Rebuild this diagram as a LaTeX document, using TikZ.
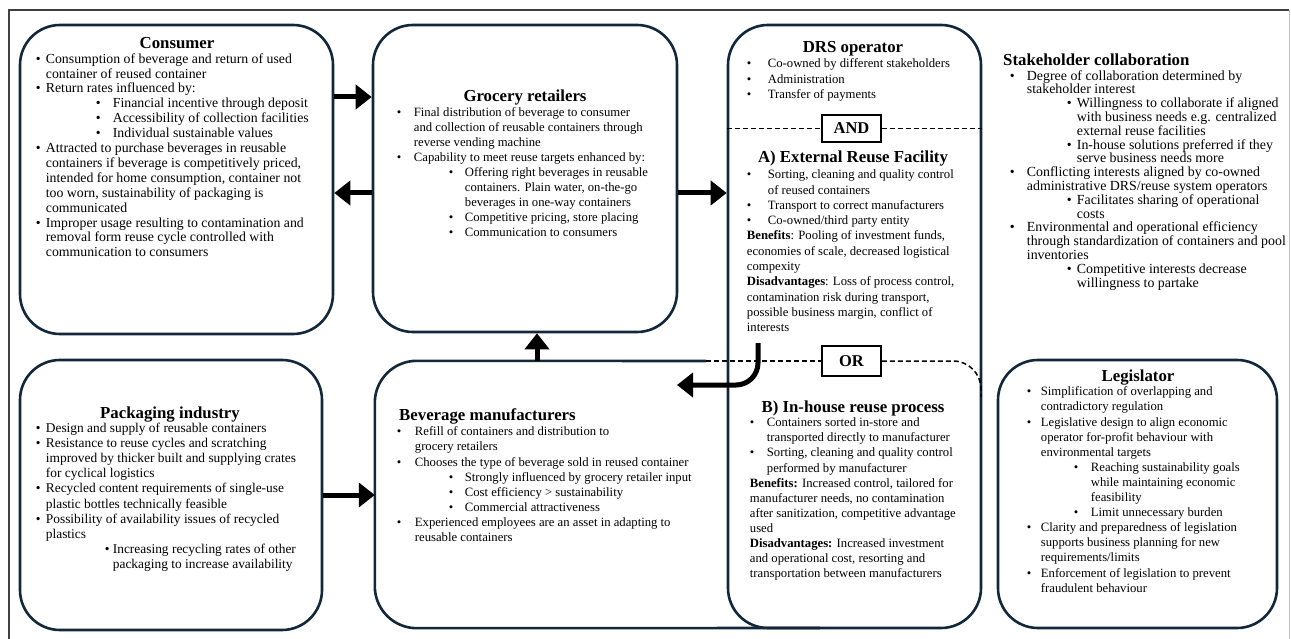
\documentclass[tikz,border=0pt]{standalone}
\usepackage{fontspec}
\setmainfont{Liberation Serif}
\usetikzlibrary{arrows.meta}
\definecolor{navy}{HTML}{12283A}
\newlength\indA \newlength\indB \newlength\indC
\newcommand\bulA{\makebox[\indA][l]{\textbullet}}
\newcommand\conA{\hspace*{\indA}}
\newcommand\bulB{\hspace*{\indB}\makebox[\indC][l]{\textbullet}}
\newcommand\conB{\hspace*{\dimexpr\indB+\indC\relax}}
\newcommand\setind[3]{\setlength\indA{#1}\setlength\indB{#2}\setlength\indC{#3}}
\def\bodysize{12.7}
\tikzset{
  box/.style={draw=navy, line width=2.6pt, rounded corners=40pt, inner sep=0pt},
  hidden/.style={inner sep=0pt},
  body/.style={anchor=north west, inner sep=0pt, align=left, font=\fontsize{\bodysize}{#1}\selectfont},
  ttl/.style={anchor=base, inner sep=0pt, font=\bfseries\fontsize{16.8}{20}\selectfont},
  ttlw/.style={anchor=base west, inner sep=0pt, font=\bfseries\fontsize{16.8}{20}\selectfont},
  tag/.style={draw=black, line width=1.6pt, fill=white, inner sep=0pt, font=\bfseries\fontsize{16.5}{20}\selectfont},
  dsh/.style={draw=black, line width=1.5pt, dash pattern=on 5pt off 3pt},
  arr/.style={draw=black, line width=5pt, -{Triangle[length=16pt,width=24pt]}},
}
\begin{document}
\begin{tikzpicture}[x=1pt, y=-1pt]
\useasboundingbox (0,0) rectangle (1291,639);
% outer frame
\draw[black!75, line width=1.2pt] (9,639) -- (9,10) -- (1289,10);
\draw[black!25, line width=0.8pt] (1289,10) -- (1289,639);

% boxes
\node[box, minimum width=313pt, minimum height=309pt] (consumer) at (176.5,179.5) {};
\node[box, minimum width=304pt, minimum height=307pt] (grocery) at (525,178.5) {};
\node[box, minimum width=302pt, minimum height=270pt] (packaging) at (171,495) {};
\node[hidden, minimum width=606pt, minimum height=267pt] (beverage) at (678,494.5) {};
\node[box, minimum width=279pt, minimum height=268pt] (legislator) at (1137.5,494) {};
\draw[draw=navy, line width=2.6pt, rounded corners=42pt] (706,361) -- (beverage.north west) -- (beverage.south west) -- (820,628);
\node[box, minimum width=253pt, minimum height=603pt] (drs) at (854.5,326.5) {};

% AND / OR separators
\node[tag, minimum width=59pt, minimum height=27pt] (and) at (851.5,128.5) {AND};
\node[tag, minimum width=59pt, minimum height=30pt] (or) at (851.5,361) {OR};
\coordinate (orl) at (706,361);
\coordinate (orc) at (981,397);
\draw[dsh] (drs.west |- and) -- (and.west);
\draw[dsh] (and.east) -- (drs.east |- and);
\draw[dsh] (orl) -- (or.west);
\draw[dsh, rounded corners=28pt] (or.east) -- (orc |- or) -- (orc);

% arrows
\coordinate (y1) at (0,97);
\coordinate (y2) at (0,193);
\coordinate (y3) at (0,495);
\coordinate (ux) at (537,0);
\coordinate (jt) at (758,343);
\coordinate (jh) at (677,385);
\draw[arr] (consumer.east |- y1) -- (grocery.west |- y1);
\draw[arr] (grocery.west |- y2) -- (consumer.east |- y2);
\draw[arr] (grocery.east |- y2) -- (drs.west |- y2);
\draw[arr] (packaging.east |- y3) -- (beverage.west |- y3);
\draw[arr] (beverage.north -| ux) -- (grocery.south -| ux);
\draw[arr, rounded corners=22pt] (jt) -- (jt |- jh) -- (jh);

% Consumer
\node[ttl] (consumer-h) at (177,49) {Consumer};
\setind{10pt}{60pt}{17pt}
\def\bodysize{13.8}
\node[body=14.9pt] (consumer-t) at (35.7,53.2) {%
\bulA Consumption of beverage and return of used\\
\conA container of reused container\\
\bulA Return rates influenced by:\\
\bulB Financial incentive through deposit\\
\bulB Accessibility of collection facilities\\
\bulB Individual sustainable values\\
\bulA Attracted to purchase beverages in reusable\\
\conA containers if beverage is competitively priced,\\
\conA intended for home consumption, container not\\
\conA too worn, sustainability of packaging is\\
\conA communicated\\
\bulA Improper usage resulting to contamination and\\
\conA removal form reuse cycle controlled with\\
\conA communication to consumers};

% Grocery retailers
\def\bodysize{12.7}
\node[ttl] (grocery-h) at (525,102) {Grocery retailers};
\setind{17pt}{52pt}{16pt}
\node[body=15pt] (grocery-t) at (396.7,107.7) {%
\bulA Final distribution of beverage to consumer\\
\conA and collection of reusable containers through\\
\conA reverse vending machine\\
\bulA Capability to meet reuse targets enhanced by:\\
\bulB Offering right beverages in reusable\\
\conB containers. Plain water, on-the-go\\
\conB beverages in one-way containers\\
\bulB Competitive pricing, store placing\\
\bulB Communication to consumers};

% DRS operator
\node[ttl] (drs-h) at (853,53) {DRS operator};
\setind{21pt}{0pt}{0pt}
\node[body=15.3pt] (drs-t) at (746.7,58.7) {%
\bulA Co-owned by different stakeholders\\
\bulA Administration\\
\bulA Transfer of payments};

\node[ttl] (ext-h) at (853,163) {A) External Reuse Facility};
\node[body=15.3pt] (ext-t) at (746.7,169.7) {%
\bulA Sorting, cleaning and quality control\\
\conA of reused containers\\
\bulA Transport to correct manufacturers\\
\bulA Co-owned/third party entity\\
\textbf{Benefits}: Pooling of investment funds,\\
economies of scale, decreased logistical\\
compexity\\
\textbf{Disadvantages}: Loss of process control,\\
contamination risk during transport,\\
possible business margin, conflict of\\
interests};

% Stakeholder collaboration
\node[ttlw] (stake-h) at (1003,66) {Stakeholder collaboration};
\setind{17pt}{57pt}{10pt}
\def\bodysize{13.9}
\node[body=13.8pt] (stake-t) at (1009.7,70.2) {%
\bulA Degree of collaboration determined by\\
\conA stakeholder interest\\
\bulB Willingness to collaborate if aligned\\
\conB with business needs e.g. centralized\\
\conB external reuse facilities\\
\bulB In-house solutions preferred if they\\
\conB serve business needs more\\
\bulA Conflicting interests aligned by co-owned\\
\conA administrative DRS/reuse system operators\\
\bulB Facilitates sharing of operational\\
\conB costs\\
\bulA Environmental and operational efficiency\\
\conA through standardization of containers and pool\\
\conA inventories\\
\bulB Competitive interests decrease\\
\conB willingness to partake};

% Packaging industry
\node[ttl] (pack-h) at (170,418) {Packaging industry};
\setind{10pt}{69pt}{8pt}
\def\bodysize{13.4}
\node[body=15.2pt] (pack-t) at (35.7,422.4) {%
\bulA Design and supply of reusable containers\\
\bulA Resistance to reuse cycles and scratching\\
\conA improved by thicker built and supplying crates\\
\conA for cyclical logistics\\
\bulA Recycled content requirements of single-use\\
\conA plastic bottles technically feasible\\
\bulA Possibility of availability issues of recycled\\
\conA plastics\\
\bulB Increasing recycling rates of other\\
\conB packaging to increase availability};

% Beverage manufacturers
\def\bodysize{12.7}
\node[ttlw] (bev-h) at (399,420) {Beverage manufacturers};
\setind{18pt}{52pt}{16pt}
\node[body=15.1pt] (bev-t) at (396.7,426.7) {%
\bulA Refill of containers and distribution to\\
\conA grocery retailers\\
\bulA Chooses the type of beverage sold in reused container\\
\bulB Strongly influenced by grocery retailer input\\
\bulB Cost efficiency > sustainability\\
\bulB Commercial attractiveness\\
\bulA Experienced employees are an asset in adapting to\\
\conA reusable containers};

% B) In-house reuse process
\node[ttl] (inh-h) at (853,412) {B) In-house reuse process};
\setind{17pt}{0pt}{0pt}
\node[body=15.1pt] (inh-t) at (749.7,417.7) {%
\bulA Containers sorted in-store and\\
\conA transported directly to manufacturer\\
\bulA Sorting, cleaning and quality control\\
\conA performed by manufacturer\\
\textbf{Benefits:} Increased control, tailored for\\
manufacturer needs, no contamination\\
after sanitization, competitive advantage\\
used\\
\textbf{Disadvantages:} Increased investment\\
and operational cost, resorting and\\
transportation between manufacturers};

% Legislator
\node[ttl] (leg-h) at (1138,381) {Legislator};
\setind{14pt}{47pt}{17pt}
\node[body=15.1pt] (leg-t) at (1026.7,386.7) {%
\bulA Simplification of overlapping and\\
\conA contradictory regulation\\
\bulA Legislative design to align economic\\
\conA operator for-profit behaviour with\\
\conA environmental targets\\
\bulB Reaching sustainability goals\\
\conB while maintaining economic\\
\conB feasibility\\
\bulB Limit unnecessary burden\\
\bulA Clarity and preparedness of legislation\\
\conA supports business planning for new\\
\conA requirements/limits\\
\bulA Enforcement of legislation to prevent\\
\conA fraudulent behaviour};
\end{tikzpicture}
\end{document}
